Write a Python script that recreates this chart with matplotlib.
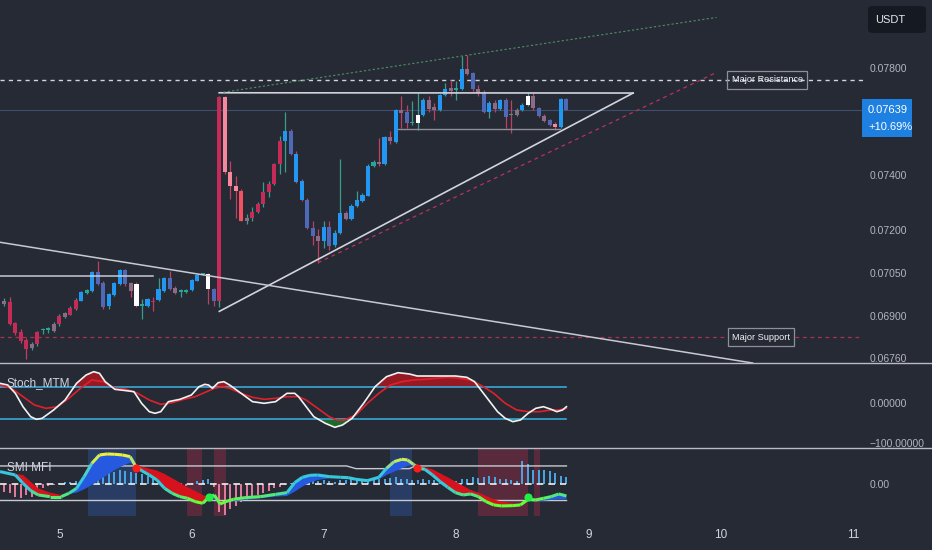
import numpy as np
import matplotlib
matplotlib.use("Agg")
import matplotlib.pyplot as plt
from matplotlib.patches import Rectangle, FancyBboxPatch
from matplotlib.lines import Line2D
from matplotlib.collections import LineCollection
from matplotlib.colors import LinearSegmentedColormap
from matplotlib.ticker import NullLocator

plt.rcParams["font.family"] = ["Liberation Sans", "DejaVu Sans"]

BG = "#262a35"
TXT = "#b2b5be"
W, H = 932, 550

# ---- price candles: hourly bars, x = hours since day 5 00:00 ----
first_bar = -10
opens = [0.06942, 0.06950, 0.06877, 0.06847, 0.06820, 0.06792, 0.06805, 0.06853, 0.06855, 0.06851,
         0.06874, 0.06899, 0.06906, 0.06925, 0.06954, 0.06980, 0.06988, 0.07053, 0.07014, 0.06936,
         0.06974, 0.07011, 0.07059, 0.07013, 0.07011, 0.06937, 0.06937, 0.06953, 0.06956, 0.06988,
         0.07031, 0.06996, 0.06984, 0.06983, 0.06990, 0.07022, 0.07046, 0.07047, 0.06994, 0.06954,
         0.07688, 0.07408, 0.07360, 0.07342, 0.07231, 0.07245, 0.07266, 0.07294, 0.07336, 0.07366,
         0.07438, 0.07523, 0.07561, 0.07475, 0.07376, 0.07309, 0.07209, 0.07179, 0.07161, 0.07211,
         0.07149, 0.07191, 0.07260, 0.07239, 0.07287, 0.07305, 0.07324, 0.07432, 0.07448, 0.07438,
         0.07537, 0.07520, 0.07640, 0.07634, 0.07590, 0.07592, 0.07622, 0.07678, 0.07651, 0.07638,
         0.07695, 0.07722, 0.07716, 0.07718, 0.07795, 0.07780, 0.07718, 0.07706, 0.07634, 0.07666,
         0.07643, 0.07678, 0.07622, 0.07622, 0.07640, 0.07659, 0.07691, 0.07647, 0.07619, 0.07603,
         0.07588, 0.07575, 0.07681]
highs = [0.06963, 0.06967, 0.06881, 0.06857, 0.06826, 0.06812, 0.06851, 0.06860, 0.06863, 0.06881,
         0.06908, 0.06915, 0.06937, 0.06963, 0.06987, 0.06994, 0.07056, 0.07091, 0.07021, 0.06980,
         0.07018, 0.07062, 0.07062, 0.07017, 0.07017, 0.06960, 0.06963, 0.06966, 0.07032, 0.07035,
         0.07057, 0.07004, 0.06994, 0.06994, 0.07028, 0.07045, 0.07051, 0.07051, 0.06997, 0.07691,
         0.07691, 0.07450, 0.07396, 0.07348, 0.07257, 0.07284, 0.07301, 0.07372, 0.07378, 0.07442,
         0.07541, 0.07634, 0.07569, 0.07485, 0.07384, 0.07315, 0.07233, 0.07203, 0.07233, 0.07232,
         0.07199, 0.07456, 0.07268, 0.07294, 0.07342, 0.07333, 0.07438, 0.07453, 0.07536, 0.07543,
         0.07561, 0.07644, 0.07691, 0.07659, 0.07672, 0.07704, 0.07686, 0.07691, 0.07666, 0.07701,
         0.07741, 0.07754, 0.07748, 0.07846, 0.07850, 0.07785, 0.07735, 0.07716, 0.07674, 0.07678,
         0.07682, 0.07686, 0.07678, 0.07648, 0.07667, 0.07706, 0.07706, 0.07652, 0.07625, 0.07606,
         0.07595, 0.07686, 0.07684]
lows = [0.06936, 0.06870, 0.06836, 0.06809, 0.06756, 0.06788, 0.06799, 0.06839, 0.06845, 0.06846,
        0.06868, 0.06896, 0.06903, 0.06922, 0.06951, 0.06977, 0.06985, 0.07008, 0.06925, 0.06925,
        0.06970, 0.07008, 0.07005, 0.06965, 0.06931, 0.06891, 0.06932, 0.06919, 0.06953, 0.06985,
        0.06990, 0.06977, 0.06965, 0.06980, 0.06987, 0.07020, 0.07042, 0.06942, 0.06937, 0.06932,
        0.07402, 0.07312, 0.07245, 0.07232, 0.07221, 0.07231, 0.07261, 0.07284, 0.07318, 0.07362,
        0.07402, 0.07409, 0.07471, 0.07370, 0.07304, 0.07203, 0.07149, 0.07085, 0.07137, 0.07131,
        0.07142, 0.07185, 0.07236, 0.07236, 0.07283, 0.07301, 0.07321, 0.07429, 0.07432, 0.07435,
        0.07511, 0.07517, 0.07571, 0.07571, 0.07584, 0.07565, 0.07618, 0.07634, 0.07603, 0.07635,
        0.07691, 0.07691, 0.07678, 0.07716, 0.07773, 0.07710, 0.07691, 0.07628, 0.07610, 0.07634,
        0.07640, 0.07571, 0.07553, 0.07618, 0.07637, 0.07655, 0.07640, 0.07614, 0.07595, 0.07580,
        0.07565, 0.07572, 0.07638]
closes = [0.06953, 0.06874, 0.06845, 0.06817, 0.06791, 0.06808, 0.06847, 0.06854, 0.06857, 0.06874,
          0.06902, 0.06910, 0.06929, 0.06956, 0.06983, 0.06990, 0.07053, 0.07011, 0.06932, 0.06977,
          0.07014, 0.07059, 0.07011, 0.06988, 0.06937, 0.06938, 0.06960, 0.06949, 0.06994, 0.07032,
          0.06994, 0.06979, 0.06985, 0.06991, 0.07025, 0.07042, 0.07047, 0.06994, 0.06952, 0.07688,
          0.07408, 0.07360, 0.07342, 0.07233, 0.07245, 0.07266, 0.07294, 0.07336, 0.07366, 0.07438,
          0.07523, 0.07561, 0.07475, 0.07372, 0.07308, 0.07207, 0.07179, 0.07161, 0.07211, 0.07143,
          0.07191, 0.07260, 0.07239, 0.07287, 0.07308, 0.07326, 0.07432, 0.07448, 0.07438, 0.07537,
          0.07523, 0.07640, 0.07628, 0.07590, 0.07596, 0.07622, 0.07678, 0.07643, 0.07640, 0.07697,
          0.07718, 0.07710, 0.07722, 0.07795, 0.07777, 0.07718, 0.07706, 0.07634, 0.07666, 0.07643,
          0.07678, 0.07615, 0.07620, 0.07640, 0.07659, 0.07691, 0.07647, 0.07619, 0.07600, 0.07584,
          0.07577, 0.07681, 0.07639]
candle_colors = ("gccccgcttg" "cgccbtbssb" "bbsgwtbcbb" "sgttbbtwsc" "ppprgccccc"
                 "cbsbbssgbs" "bbgbbbbtgb" "gbgstwbggb" "bgtbgsgsbg" "bstgbwgsgs" "pbs")
PAL = {"b": "#2196f3", "s": "#4d69b8", "c": "#c62a56", "p": "#f7889b", "r": "#f4505f",
       "g": "#8c6b86", "w": "#ffffff", "t": "#26a69a"}

# ---- drawings on the price pane ----
resistance = 0.07754
support = 0.06830
last_price = 0.07639
tri_top_x, tri_top_y = [29.0, 104.1], [0.07705, 0.07704]
tri_low_x, tri_low_y = [29.03, 104.1], [0.06917, 0.07704]
red_chan_x, red_chan_y = [46.93, 119.13], [0.07085, 0.07782]
green_x, green_y = [29.75, 119.22], [0.07707, 0.07997]
desc_x, desc_y = [-10.76, 125.77], [0.07157, 0.06743]
left_lvl_x, left_lvl_y = [-10.76, 17.05], [0.07039, 0.07039]
box_floor_x, box_floor_y = [61.44, 90.83], [0.07567, 0.07567]
price_ticks = [0.07800, 0.07400, 0.07200, 0.07050, 0.06900, 0.06760]

# ---- Stoch_MTM ----
fast_x = [-10.76, -9.37, -7.98, -6.59, -5.20, -4.16, -3.12, -1.04, 1.04, 3.13, 4.86, 6.25, 7.29, 8.33,
          10.07, 12.15, 13.54, 14.93, 16.32, 17.36, 18.40, 19.79, 21.87, 23.96, 25.34, 26.39, 27.08,
          27.77, 28.82, 29.86, 30.90, 32.98, 35.06, 37.15, 39.23, 41.31, 42.70, 43.40, 44.78, 46.17,
          48.26, 49.99, 51.38, 53.12, 55.20, 57.28, 59.36, 61.45, 63.53, 64.92, 67.00, 69.08, 71.86,
          73.94, 75.33, 76.72, 78.11, 79.50, 80.89, 82.28, 83.66, 85.05, 86.44, 87.83, 89.22, 90.26,
          91.30, 92.00]
fast_v = [49.2, 45.0, 24.2, -9.2, -34.2, -40.8, -38.3, -17.5, 7.5, 49.2, 70.0, 78.3, 74.2, 53.3,
          34.2, 30.8, 28.3, -0.8, -21.7, -25.8, -21.7, 3.3, 9.2, 20.0, 40.8, 46.7, 45.0,
          36.7, 50.8, 53.3, 45.0, 24.2, 3.3, -0.8, 3.3, 24.2, 24.2, 15.8, -9.2, -34.2,
          -50.8, -60.8, -55.0, -38.3, -0.8, 40.8, 65.8, 75.8, 72.5, 67.5, 67.5, 67.5, 67.5,
          64.2, 53.3, 28.3, 3.3, -21.7, -38.3, -46.7, -42.5, -25.8, -13.3, -9.2, -15.8, -21.7,
          -17.5, -9.2]
slow_x = [-10.76, -8.68, -6.59, -4.51, -2.43, -0.35, 1.74, 3.82, 5.90, 7.99, 10.07, 12.15, 14.23,
          16.32, 18.40, 20.48, 22.57, 24.65, 26.73, 28.12, 29.51, 30.90, 32.98, 35.06, 37.15, 39.23,
          41.31, 43.40, 44.78, 46.87, 48.95, 50.34, 51.73, 53.81, 55.89, 57.97, 60.06, 62.14, 64.22,
          66.31, 68.39, 70.47, 72.56, 74.64, 76.72, 78.81, 80.89, 82.97, 85.05, 87.14, 89.22, 90.61,
          92.00]
slow_v = [45.0, 36.7, 15.8, -5.0, -13.3, -9.2, 11.7, 36.7, 57.5, 53.3, 36.7, 34.2, 24.2,
          7.5, -3.3, 0.8, 9.2, 15.8, 28.3, 36.7, 40.8, 36.7, 24.2, 14.2, 9.2, 11.7,
          15.8, 15.8, 7.5, -13.3, -34.2, -42.5, -42.5, -30.0, -0.8, 24.2, 45.0, 53.3, 57.5,
          59.2, 61.7, 64.2, 61.7, 57.5, 42.5, 24.2, -0.8, -17.5, -21.7, -21.7, -17.5, -17.5,
          -13.3]
stoch_levels = [40, -40]

# ---- SMI MFI ----
smi_x = [-10.76, -7.98, -6.59, -5.20, -3.82, -1.73, 0.35, 1.74, 3.13, 4.51, 5.90, 7.29, 8.68, 10.07,
         11.46, 12.85, 13.89, 14.93, 16.32, 17.71, 19.09, 20.48, 21.87, 23.26, 24.65, 26.04, 27.08,
         28.12, 29.16, 30.20, 31.59, 33.68, 36.45, 39.23, 41.31, 42.70, 44.09, 45.48, 46.87, 48.95,
         51.03, 52.42, 53.81, 55.89, 57.97, 59.36, 60.75, 62.14, 63.18, 64.22, 65.27, 66.31, 67.70,
         69.08, 70.47, 71.86, 73.25, 74.64, 76.03, 77.42, 78.81, 80.19, 82.28, 83.66, 85.05, 86.44,
         87.83, 89.22, 90.61, 92.00]
smi_main = [27.5, 20.0, 1.5, -14.8, -24.4, -28.1, -28.1, -20.7, -9.6, 16.4,
            46.0, 64.5, 66.7, 66.0, 64.5, 60.8, 38.6, 29.7, 20.0, 8.9,
            -9.6, -20.7, -28.1, -31.8, -39.2, -42.9, -29.6, -24.4, -44.4, -39.2,
            -34.0, -30.3, -28.1, -23.0, -19.2, 3.0, 14.9, 19.3, 20.0, 16.4,
            14.9, 14.1, 10.4, 7.5, 14.9, 34.9, 49.7, 54.9, 53.4, 43.8,
            34.9, 32.6, 20.0, 5.2, -7.4, -19.2, -24.4, -22.2, -28.1, -39.2,
            -46.6, -48.8, -48.1, -46.6, -34.0, -35.5, -31.8, -28.1, -22.2, -26.6]
smi_signal = [27.5, 22.3, 20.0, 5.2, -9.6, -19.2, -24.4, -22.2, -19.2, -11.8,
              -2.2, 8.9, 20.0, 31.2, 40.1, 47.5, 40.1, 38.6, 34.1, 29.7,
              22.3, 12.7, 3.0, -7.4, -15.5, -24.4, -29.6, -34.0, -39.2, -40.7,
              -38.5, -35.5, -31.8, -28.1, -26.6, -17.0, -5.9, 3.0, 8.9, 12.7,
              13.4, 14.9, 12.7, 8.9, 10.4, 20.0, 27.5, 34.9, 40.1, 42.3,
              38.6, 37.1, 32.6, 23.8, 14.9, 5.2, -4.4, -13.3, -19.2, -26.6,
              -34.0, -39.2, -42.9, -44.4, -35.5, -39.2, -37.0, -35.5, -34.0, -34.0]
smi_upper_x = [-10.76, 52.1, 53.8, 63.5, 64.6, 92.0]
smi_upper_v = [40.1, 40.1, 34.1, 34.1, 40.1, 40.1]
smi_lower = -35.5
mfi_hist = [-17, -21, -28, -32, -24, -29, -21, -8, -5, -3,
            2, 4, 5, 6, 8, 10, 14, 22, 30, 28,
            26, 30, 29, 27, 25, 22, 18, 12, 8, 6,
            4, 2, -2, -4, 3, 6, 8, 10, -6, -62,
            -68, -55, -48, -40, -35, -30, -25, -20, -15, -10,
            -6, -3, 2, 4, 6, 8, 10, 7, 8, 6,
            5, 8, 9, 10, 10, 12, 12, 14, 13, 12,
            14, 15, 12, 10, 9, 8, 10, 9, 8, 10,
            9, 8, 7, 10, 12, 15, 14, 16, 17, 15,
            12, 10, 8, 7, 50, 45, 30, 30, 30, 28,
            25, 18, 15]
sell_dots_x, sell_dots_v = [13.89, 64.9], [34.9, 34.9]
buy_dots_x, buy_dots_v = [27.08, 85.05], [-28.1, -28.1]
blue_zones = [(5.2, 13.9), (60.0, 64.0)]
red_zones = [(23.1, 25.9), (28.1, 30.2), (76.0, 85.0), (86.1, 87.2)]

day_ticks = [0, 24, 48, 72, 96, 120, 144]
day_labels = ["5", "6", "7", "8", "9", "10", "11"]


fig = plt.figure(figsize=(W / 100, H / 100), dpi=100, facecolor=BG)
right = 863 / W
ax1 = fig.add_axes([0, 1 - 363.3 / H, right, 363.3 / H])
ax2 = fig.add_axes([0, 1 - 448.3 / H, right, (448.3 - 363.8) / H], sharex=ax1)
ax3 = fig.add_axes([0, 1 - 518 / H, right, (518 - 448.8) / H], sharex=ax1)
for ax in (ax1, ax2, ax3):
    ax.set_facecolor(BG)
    for s in ax.spines.values():
        s.set_visible(False)
    ax.yaxis.tick_right()
    ax.tick_params(axis="y", length=0, pad=5, labelcolor=TXT, labelsize=7.5)
    ax.tick_params(axis="x", length=0)

# price pane
ax1.set_yscale("log")
ax1.set_ylim(0.06742, 0.08066)
ax1.set_xlim(-10.76, 145.8)
x = np.arange(first_bar, first_bar + len(opens))
o, h, l, c = map(np.array, (opens, highs, lows, closes))
wick = ["#3b9c8c" if cc >= oo else "#c04060" for oo, cc in zip(o, c)]
ax1.vlines(x, l, h, colors=wick, lw=0.9, zorder=2)
bot = np.minimum(o, c)
top = np.maximum(np.maximum(o, c), bot * 1.0007)
ax1.bar(x, top - bot, bottom=bot, width=0.74, color=[PAL[k] for k in candle_colors],
        linewidth=0, zorder=3)

ax1.axhline(last_price, color="#3e4f6d", lw=0.8, zorder=1)
ax1.axhline(resistance, color="#d1d4dc", lw=1, ls=(0, (3, 3)), zorder=1)
ax1.axhline(support, color="#a8324f", lw=0.9, ls=(0, (3, 3)), zorder=1)
ax1.plot(tri_top_x, tri_top_y, color="#d1d4dc", lw=1.2, zorder=4)
ax1.plot(tri_low_x, tri_low_y, color="#d1d4dc", lw=1.2, zorder=4)
ax1.plot(red_chan_x, red_chan_y, color="#b8345a", lw=0.9, ls=(0, (3, 3)), zorder=4)
ax1.plot(green_x, green_y, color="#4f8f62", lw=0.8, ls=(0, (2, 2)), zorder=4)
ax1.plot(desc_x, desc_y, color="#c8cad2", lw=1.1, zorder=4)
ax1.plot(left_lvl_x, left_lvl_y, color="#c8cad2", lw=1.1, zorder=4)
ax1.plot(box_floor_x, box_floor_y, color="#8d9099", lw=1, zorder=4)
ax1.text(128.4, resistance, "Major Resistance", color="#f0f2f6", fontsize=6.6, ha="center",
         va="center", zorder=5,
         bbox=dict(boxstyle="square,pad=0.45", fc="none", ec="#8d9099", lw=0.9))
ax1.text(127.3, support, "Major Support", color="#f0f2f6", fontsize=6.6, ha="center",
         va="center", zorder=5,
         bbox=dict(boxstyle="square,pad=0.45", fc=BG, ec="#8d9099", lw=0.9))
ax1.set_yticks(price_ticks)
ax1.set_yticklabels([f"{v:.5f}" for v in price_ticks])
ax1.yaxis.set_minor_locator(NullLocator())
ax1.tick_params(axis="x", labelbottom=False)

# stoch pane
ax2.set_ylim(-113.25, 98)
ax2.plot([fast_x[0], fast_x[-1]], [stoch_levels[0]] * 2, color="#3aa6d6", lw=1.2, zorder=2)
ax2.plot([fast_x[0], fast_x[-1]], [stoch_levels[1]] * 2, color="#3aa6d6", lw=1.2, zorder=2)
fv = np.array(fast_v)
ax2.fill_between(fast_x, fv, stoch_levels[0], where=fv > stoch_levels[0], interpolate=True,
                 color="#961a24", lw=0, zorder=1)
ax2.fill_between(fast_x, fv, stoch_levels[1], where=fv < stoch_levels[1], interpolate=True,
                 color="#1d6b2c", lw=0, zorder=1)
ax2.plot(slow_x, slow_v, color="#e0202a", lw=1.2, zorder=3)
ax2.plot(fast_x, fast_v, color="#f2f2f2", lw=1.2, zorder=4)
ax2.set_yticks([0, -100])
ax2.set_yticklabels(["0.00000", "\u2212100.00000"])
ax2.tick_params(axis="x", labelbottom=False)
ax2.text(0.008, 0.77, "Stoch_MTM", transform=ax2.transAxes, color="#d1d4dc", fontsize=8.5,
         va="center", zorder=6)

# SMI pane
ax3.set_ylim(-75.6, 78.2)
for a, b in blue_zones:
    ax3.axvspan(a, b, ymin=0.03, ymax=1, color="#2c4b8c", alpha=0.55, lw=0, zorder=0)
for a, b in red_zones:
    ax3.axvspan(a, b, ymin=0.03, ymax=1, color="#6e2a40", alpha=0.7, lw=0, zorder=0)
hv = np.array(mfi_hist, dtype=float)
hx = np.arange(first_bar, first_bar + len(mfi_hist))
ax3.bar(hx, hv, width=0.36, color=["#4aa3df" if v >= 0 else "#e07a9a" for v in hv],
        lw=0, zorder=1)
ax3.plot(smi_upper_x, smi_upper_v, color="#c8cad2", lw=1, zorder=2)
ax3.plot([smi_x[0], smi_x[-1]], [smi_lower] * 2, color="#c8cad2", lw=1, zorder=2)
ax3.plot([smi_x[0], smi_x[-1]], [0, 0], color="#f0f0f0", lw=1.2, ls=(0, (4, 3)), zorder=2)
mm, sg = np.array(smi_main), np.array(smi_signal)
ax3.fill_between(smi_x, mm, sg, where=mm >= sg, interpolate=True, color="#2459e0", lw=0, zorder=3)
ax3.fill_between(smi_x, mm, sg, where=mm < sg, interpolate=True, color="#d8121c", lw=0, zorder=3)
pts = np.column_stack([smi_x, mm]).reshape(-1, 1, 2)
segs = np.concatenate([pts[:-1], pts[1:]], axis=1)
cmap = LinearSegmentedColormap.from_list("smi", ["#66ff33", "#36c8dc", "#36c8dc", "#f0f03a"])
lc = LineCollection(segs, cmap=cmap, norm=plt.Normalize(-40, 60), lw=2.2, zorder=4)
lc.set_array((mm[:-1] + mm[1:]) / 2)
ax3.add_collection(lc)
ax3.scatter(sell_dots_x, sell_dots_v, s=34, color="#ff1a1a", zorder=5, lw=0)
ax3.scatter(buy_dots_x, buy_dots_v, s=34, color="#22ee44", zorder=5, lw=0)
ax3.set_yticks([0])
ax3.set_yticklabels(["0.00"])
ax3.text(0.008, 0.72, "SMI MFI", transform=ax3.transAxes, color="#d1d4dc", fontsize=8.5,
         va="center", zorder=6)
ax3.set_xticks(day_ticks)
ax3.set_xticklabels(day_labels)
ax3.tick_params(axis="x", pad=8, labelcolor="#d1d4dc", labelsize=8.5)

# pane separators and right-side labels
for yy in (363.3, 448.3):
    fig.add_artist(Line2D([0, 1], [1 - yy / H] * 2, color="#b8bbc4", lw=1))
fig.add_artist(Rectangle((862 / W, 1 - 137 / H), 50 / W, 38 / H, transform=fig.transFigure,
                         facecolor="#1e80e0", edgecolor="none"))
fig.text(868 / W, 1 - 110 / H, "0.07639", color="white", fontsize=8, va="center")
fig.text(868 / W, 1 - 127 / H, "+10.69%", color="white", fontsize=8, va="center")
fig.add_artist(FancyBboxPatch((868 / W, 1 - 33 / H), 58 / W, 27 / H, transform=fig.transFigure,
                              boxstyle="round,pad=0,rounding_size=0.006",
                              facecolor="#151922", edgecolor="none"))
fig.text(875 / W, 1 - 20 / H, "USDT", color="#e6e8ee", fontsize=8, va="center")

fig.savefig("out.png", dpi=100, facecolor=BG)
